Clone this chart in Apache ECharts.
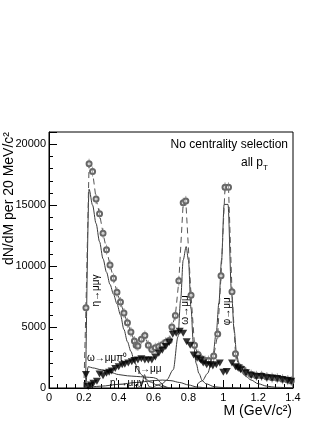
<!DOCTYPE html>
<html>
<head>
<meta charset="utf-8">
<script src="https://cdn.jsdelivr.net/npm/echarts@6/dist/echarts.min.js"></script>
<style>
  html, body { margin: 0; padding: 0; background: #fff; }
  #chart { width: 327px; height: 423px; }
</style>
</head>
<body>
<div id="chart"></div>
<script>
// mass M in GeV/c^2, yield dN/dM per 20 MeV/c^2

// total (open circles, dashed)
const sumMass = [0.2, 0.212, 0.23, 0.25, 0.27, 0.29, 0.31, 0.33, 0.35, 0.37, 0.39, 0.41, 0.43, 0.45, 0.47, 0.49, 0.50, 0.51, 0.53, 0.55, 0.57, 0.59, 0.61, 0.63, 0.65, 0.67, 0.69, 0.705, 0.725, 0.745, 0.77, 0.785, 0.815, 0.835, 0.855, 0.875, 0.895, 0.915, 0.945, 0.968, 0.987, 1.01, 1.03, 1.05, 1.07, 1.09, 1.11, 1.13, 1.16, 1.19, 1.22, 1.25, 1.28, 1.31, 1.34, 1.37, 1.39];
const sumYield = [0, 6580, 18400, 17750, 15500, 14300, 12700, 11350, 10100, 9000, 7850, 7050, 6150, 5350, 4600, 3850, 3500, 3450, 4000, 4300, 3500, 3150, 3300, 3400, 3550, 3750, 3900, 5000, 5950, 8800, 15200, 15350, 7600, 3500, 2750, 2400, 2250, 2250, 2630, 4420, 9200, 16460, 16460, 7900, 2800, 1730, 1550, 1300, 1100, 1000, 1000, 900, 850, 800, 720, 650, 580];

// filled triangles
const triMass = [0.212, 0.225, 0.24, 0.255, 0.275, 0.29, 0.31, 0.33, 0.345, 0.36, 0.38, 0.40, 0.42, 0.435, 0.455, 0.475, 0.49, 0.51, 0.53, 0.55, 0.57, 0.59, 0.61, 0.63, 0.65, 0.67, 0.69, 0.71, 0.73, 0.75, 0.77, 0.79, 0.81, 0.83, 0.85, 0.87, 0.885, 0.905, 0.925, 0.94, 0.96, 0.98, 1.0, 1.02, 1.05, 1.07, 1.085, 1.10, 1.13, 1.16, 1.19, 1.22, 1.25, 1.28, 1.31, 1.34, 1.37, 1.39];
const triYield = [1100, 120, 250, 380, 550, 1150, 1000, 1200, 1300, 1400, 1600, 1750, 1900, 1950, 2050, 2150, 2250, 2300, 2400, 2300, 2300, 2300, 2550, 2850, 3100, 3400, 3750, 4400, 4500, 4650, 4500, 3800, 3500, 2700, 2450, 2300, 2050, 1900, 1900, 1800, 1900, 2050, 1300, 1350, 2050, 1750, 1650, 1500, 1250, 1050, 950, 950, 850, 820, 780, 700, 620, 560];

// components (solid)
const etaDalitzMass = [0.21, 0.23, 0.25, 0.27, 0.29, 0.31, 0.33, 0.35, 0.37, 0.39, 0.41, 0.43, 0.45, 0.47, 0.49, 0.51, 0.53, 0.55, 0.58, 0.62, 0.66, 0.70];
const etaDalitzYield = [0, 16300, 15000, 13500, 12000, 10600, 9500, 8500, 7700, 6900, 6000, 4800, 3800, 3000, 2200, 1500, 1100, 800, 500, 250, 80, 0];

const omegaDalitzMass = [0.21, 0.225, 0.25, 0.30, 0.35, 0.40, 0.45, 0.50, 0.55, 0.60, 0.62, 0.64, 0.66, 0.68];
const omegaDalitzYield = [0, 1750, 1650, 1500, 1300, 1100, 1000, 950, 900, 850, 750, 450, 150, 0];

const etaMuMuMass = [0.50, 0.52, 0.535, 0.548, 0.56, 0.575, 0.60];
const etaMuMuYield = [0, 100, 500, 1100, 500, 100, 0];

const etaPrimeMass = [0.2, 0.3, 0.4, 0.5, 0.6, 0.65, 0.7, 0.75, 0.8, 0.85, 0.9];
const etaPrimeYield = [0, 150, 300, 450, 600, 650, 600, 450, 250, 80, 0];

const rhoOmegaMass = [0.6, 0.65, 0.675, 0.713, 0.74, 0.755, 0.77, 0.787, 0.80, 0.815, 0.828, 0.845, 0.86, 0.88, 0.9, 0.95, 1.0, 1.1];
const rhoOmegaYield = [100, 350, 650, 1500, 4200, 7200, 10500, 11600, 10500, 6500, 3700, 2000, 1200, 600, 350, 100, 30, 0];

const phiMass = [0.85, 0.88, 0.91, 0.94, 0.96, 0.975, 0.99, 1.005, 1.027, 1.047, 1.062, 1.077, 1.09, 1.11, 1.13, 1.16, 1.2, 1.25, 1.3, 1.4];
const phiYield = [300, 600, 1200, 2600, 4600, 7000, 10500, 15060, 15060, 7900, 4800, 2700, 2000, 1300, 950, 650, 350, 150, 60, 0];

const FONT = '"Liberation Sans", Arial, Helvetica, sans-serif';
const zip = (m, y) => m.map((v, i) => [v, y[i]]);

const chart = echarts.init(document.getElementById('chart'));

function component(m, y) {
  return {
    type: 'line', data: zip(m, y), symbol: 'none',
    smooth: 0.3, smoothMonotone: 'x',
    lineStyle: { color: '#3a3a3a', width: 1 }, z: 2, silent: true
  };
}

const sumPts = zip(sumMass, sumYield).map(p => p[1] > 0 ? p : { value: p, symbol: 'none' });

const option = {
  animation: false,
  backgroundColor: '#fff',
  grid: { left: 49, right: 34, top: 132, bottom: 35, show: true, borderColor: '#000', borderWidth: 1 },
  xAxis: {
    type: 'value', min: 0, max: 1.4, interval: 0.2,
    axisLine: { lineStyle: { color: '#000', width: 1 } },
    axisTick: { inside: true, length: 8, lineStyle: { color: '#000' } },
    minorTick: { show: true, splitNumber: 4, length: 4, lineStyle: { color: '#000' } },
    axisLabel: { color: '#000', fontSize: 11, fontFamily: FONT, margin: 4 },
    splitLine: { show: false }
  },
  yAxis: [{
    type: 'value', min: 0, max: 21000, interval: 1000,
    axisLine: { lineStyle: { color: '#000', width: 1 } },
    axisTick: { inside: true, length: 4, lineStyle: { color: '#000' } },
    axisLabel: {
      color: '#000', fontSize: 11, fontFamily: FONT, margin: 3,
      formatter: v => (v % 5000 === 0 ? String(v) : '')
    },
    splitLine: { show: false }
  }, {
    type: 'value', min: 0, max: 21000, interval: 5000, position: 'left',
    axisLine: { show: false },
    axisTick: { inside: true, length: 8, lineStyle: { color: '#000' } },
    axisLabel: { show: false },
    splitLine: { show: false }
  }],
  series: [
    component(etaDalitzMass, etaDalitzYield),
    component(omegaDalitzMass, omegaDalitzYield),
    component(etaMuMuMass, etaMuMuYield),
    component(etaPrimeMass, etaPrimeYield),
    component(rhoOmegaMass, rhoOmegaYield),
    component(phiMass, phiYield),
    {
      type: 'line', data: sumPts,
      symbol: 'emptyCircle', symbolSize: 5,
      itemStyle: { color: '#666', borderWidth: 0.8 },
      lineStyle: { color: '#555', width: 1, type: [6, 4] },
      z: 3, silent: true
    },
    {
      // small vertical error bars through the circles
      type: 'custom', data: zip(sumMass, sumYield).filter(p => p[1] > 0), z: 4, silent: true,
      encode: { x: 0, y: 1 },
      renderItem: (params, api) => {
        const p = api.coord([api.value(0), api.value(1)]);
        return { type: 'line', shape: { x1: p[0], y1: p[1] - 5, x2: p[0], y2: p[1] + 5 }, style: { stroke: '#777', lineWidth: 0.7 } };
      }
    },
    {
      type: 'scatter', data: zip(triMass, triYield),
      symbol: 'triangle', symbolRotate: 180, symbolSize: [8, 7],
      itemStyle: { color: '#000' }, z: 5, silent: true
    }
  ]
};
chart.setOption(option);

// text annotations, placed in data coordinates
const notes = [
  { text: 'η→μμγ', at: [0.27, 8000], rot: true },
  { text: 'ω→μμ', at: [0.78, 6400], rot: true },
  { text: 'φ→μμ', at: [1.021, 6300], rot: true },
  { text: 'ω→μμπ⁰', at: [0.218, 2400] },
  { text: 'η→μμ', at: [0.49, 1550] },
  { text: "η'→μμγ", at: [0.35, 420] }
];

const graphics = notes.map(n => {
  const p = chart.convertToPixel({ gridIndex: 0 }, n.at);
  return {
    type: 'text', x: p[0], y: p[1], rotation: n.rot ? Math.PI / 2 : 0, z: 10,
    style: { text: n.text, fill: '#000', font: '10px ' + FONT, align: n.rot ? 'center' : 'left', verticalAlign: 'middle' }
  };
});

graphics.push(
  { type: 'text', x: 288, y: 145, style: { text: 'No centrality selection', fill: '#000', font: '12px ' + FONT, align: 'right', verticalAlign: 'middle' } },
  { type: 'text', x: 263, y: 163, style: { text: 'all p', fill: '#000', font: '12px ' + FONT, align: 'right', verticalAlign: 'middle' } },
  { type: 'text', x: 263, y: 168, style: { text: 'T', fill: '#000', font: '8px ' + FONT, align: 'left', verticalAlign: 'middle' } },
  { type: 'text', x: 9, y: 132, rotation: Math.PI / 2, style: { text: 'dN/dM per 20 MeV/c²', fill: '#000', font: '14px ' + FONT, align: 'right', verticalAlign: 'middle' } },
  { type: 'text', x: 292, y: 411, style: { text: 'M (GeV/c²)', fill: '#000', font: '14px ' + FONT, align: 'right', verticalAlign: 'middle' } }
);

chart.setOption({ graphic: graphics });
</script>
</body>
</html>
